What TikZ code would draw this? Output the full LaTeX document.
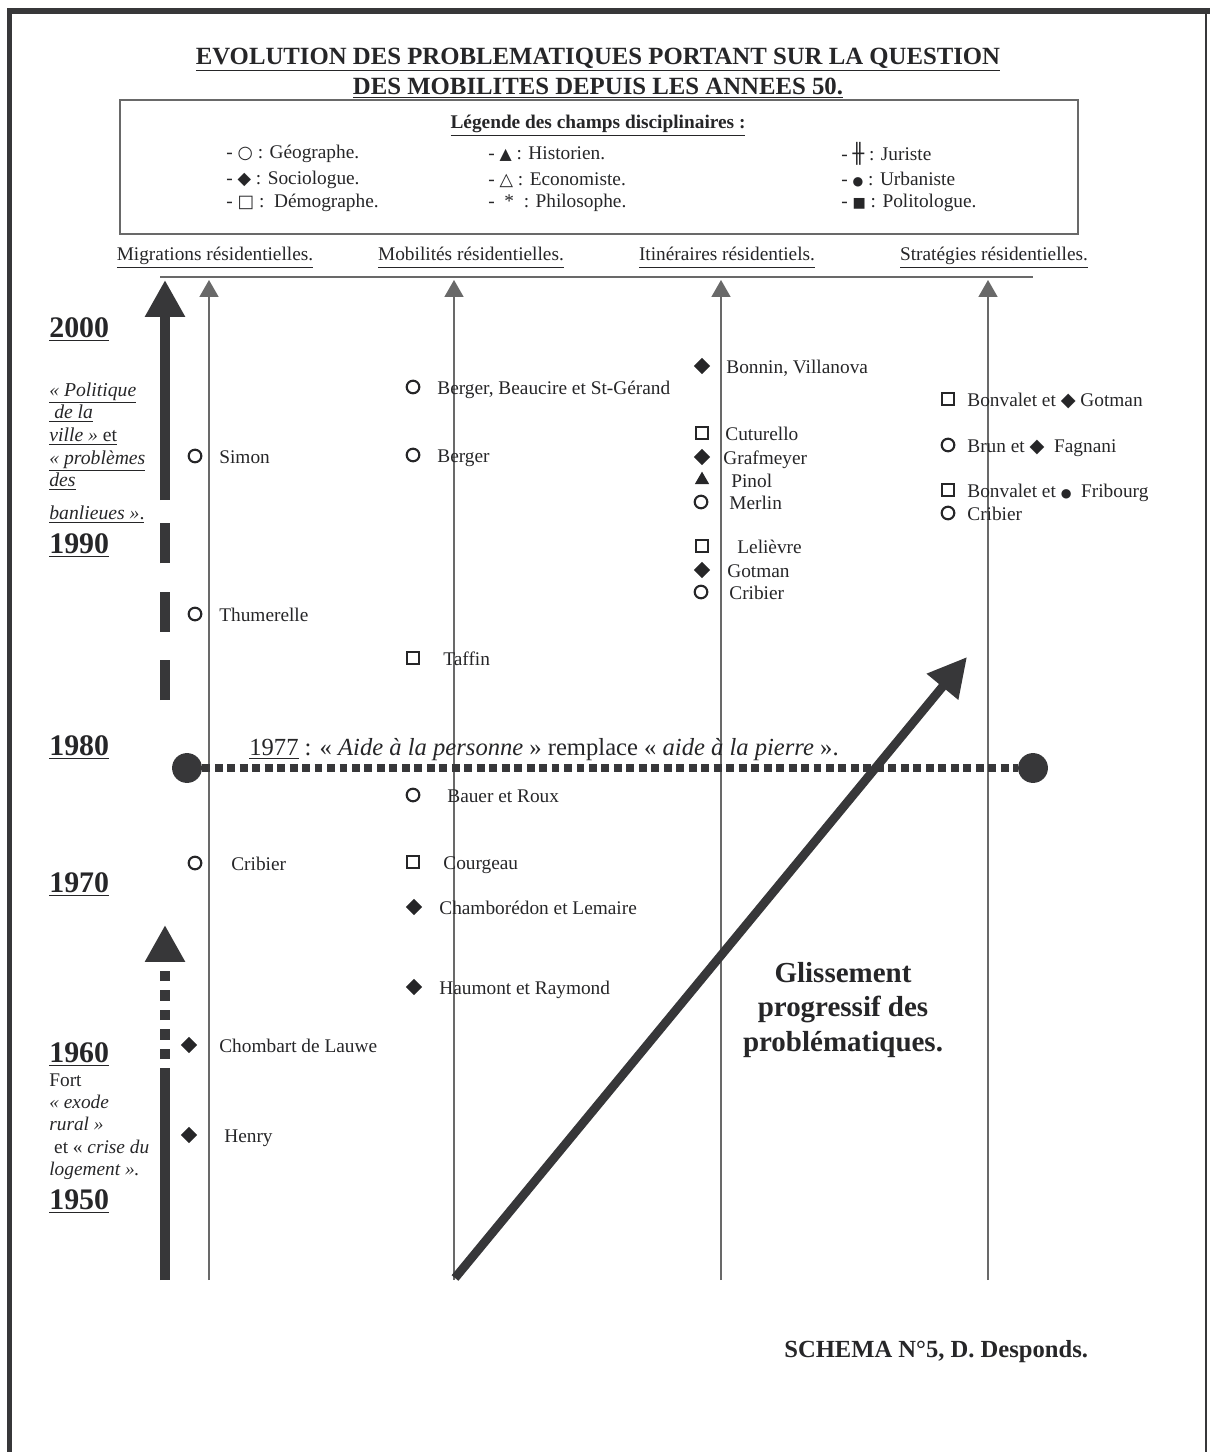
\documentclass[tikz,border=0pt]{standalone}
\usepackage{fontspec}
\setmainfont{Liberation Serif}
\newfontfamily\symb{DejaVu Sans}
\usetikzlibrary{shapes.geometric,arrows.meta}
\definecolor{ink}{RGB}{38,38,40}
\definecolor{fonce}{RGB}{55,55,57}
\definecolor{trait}{RGB}{105,105,105}
\newcommand{\glyphe}[2][10]{{\symb\fontsize{#1}{#1}\selectfont #2}}

\begin{document}
\begin{tikzpicture}[x=0.02cm,y=-0.02cm,
  every node/.style={text=ink},
  texte/.style={inner sep=0, yshift=-1.6pt},
  geo/.style={draw=ink, circle, line width=1.2pt, inner sep=0, minimum size=7.2pt},
  socio/.style={fill=ink, diamond, inner sep=0, minimum size=9.5pt},
  demo/.style={draw=ink, rectangle, line width=1.1pt, inner sep=0, minimum size=7pt},
  hist/.style={fill=ink, regular polygon, regular polygon sides=3, inner sep=0, minimum size=9.5pt},
  auteur/.style={texte, anchor=west, font=\fontsize{11}{13}\selectfont, text height=1.5ex, text depth=.3ex},
  legende/.style={texte, anchor=west, font=\fontsize{11}{13}\selectfont},
  entete/.style={texte, font=\fontsize{11}{13}\selectfont},
  annee/.style={texte, anchor=west, font=\fontsize{17}{20}\selectfont\bfseries},
  axe/.style={draw=trait, line width=0.7pt, -{Triangle[length=9.6pt,width=10.8pt]}},
  barre/.style={draw=fonce, line width=6pt},
  grosse/.style={-{Triangle[length=21pt,width=21.5pt]}}]
\useasboundingbox (0,0) rectangle (1210,1452);
\small
% cadre
\fill[fonce] (7,8) rectangle (1210,14);
\fill[fonce] (7,8) rectangle (12,1452);
\draw[fonce, line width=1.2pt] (1206,14) -- (1206,1452);

% titre et legende
\node[texte, font=\fontsize{14.1}{16}\selectfont\bfseries] (titre1) at (598,57) {\underline{EVOLUTION DES PROBLEMATIQUES PORTANT SUR LA QUESTION}};
\node[texte, font=\fontsize{14.1}{16}\selectfont\bfseries] (titre2) at (598,85) {\underline{DES MOBILITES DEPUIS LES ANNEES 50.}};
\draw[trait, line width=0.9pt] (120,100) rectangle (1078,234);
\node[texte, font=\fontsize{11}{13}\selectfont\bfseries] (leg) at (598,123) {\underline{Légende des champs disciplinaires :}};
\node[legende] (l1) at (226,151) {- \glyphe{○} : Géographe.};
\node[legende] (l2) at (226,177) {- \glyphe{◆} : Sociologue.};
\node[legende] (l3) at (226,200) {- \glyphe{□} :\ \ Démographe.};
\node[legende] (l4) at (488,151) {- \glyphe[9]{▲} : Historien.};
\node[legende] (l5) at (488,177) {- \glyphe{△} : Economiste.};
\node[legende] (l6) at (488,200) {-\ \ * \ : Philosophe.};
\node[legende] (l7) at (841,151) {- \glyphe[11]{╫} : Juriste};
\node[legende] (l8) at (841,177) {- \glyphe[7]{●} : Urbaniste};
\node[legende] (l9) at (841,200) {- \glyphe[8]{■} : Politologue.};

% colonnes
\node[entete] (h1) at (215,255) {\underline{Migrations résidentielles.\vphantom{gp}}};
\node[entete] (h2) at (471,255) {\underline{Mobilités résidentielles.\vphantom{gp}}};
\node[entete] (h3) at (727,255) {\underline{Itinéraires résidentiels.\vphantom{gp}}};
\node[entete] (h4) at (994,255) {\underline{Stratégies résidentielles.\vphantom{gp}}};
\coordinate (hg) at (160,277);
\coordinate (hd) at (1033,277);
\path[draw=trait, line width=0.7pt] (hg) -- (hd);
\coordinate (a1b) at (209,1280); \coordinate (a1h) at (209,280);
\coordinate (a2b) at (454,1280); \coordinate (a2h) at (454,280);
\coordinate (a3b) at (721,1280); \coordinate (a3h) at (721,280);
\coordinate (a4b) at (988,1280); \coordinate (a4h) at (988,280);
\path[axe] (a1b) -- (a1h);
\path[axe] (a2b) -- (a2h);
\path[axe] (a3b) -- (a3h);
\path[axe] (a4b) -- (a4h);

% fleche du temps
\coordinate (f1) at (165,1280); \coordinate (f2) at (165,1068);
\coordinate (f3) at (165,1059); \coordinate (f4) at (165,925);
\coordinate (f5) at (165,700); \coordinate (f6) at (165,522);
\coordinate (f7) at (165,500); \coordinate (f8) at (165,280);
\path[barre] (f1) -- (f2);
\path[barre, grosse, dash pattern=on 5.7pt off 5.4pt] (f3) -- (f4);
\path[barre, dash pattern=on 22.7pt off 16.2pt] (f5) -- (f6);
\path[barre, grosse] (f7) -- (f8);

% annees
\node[annee] (y2000) at (49,327) {\underline{2000}};
\node[annee] (y1990) at (49,543) {\underline{1990}};
\node[annee] (y1980) at (49,745) {\underline{1980}};
\node[annee] (y1970) at (49,882) {\underline{1970}};
\node[annee] (y1960) at (49,1052) {\underline{1960}};
\node[annee] (y1950) at (49,1199) {\underline{1950}};
\node[anchor=north west, inner sep=0, align=left, font=\fontsize{11.2}{12.9}\selectfont] (ville) at (49,382)
  {\underline{\textit{« Politique}}\\ \underline{\textit{\ de la}}\\ \underline{\textit{ville »} et}\\
   \underline{\textit{« problèmes}}\\ \underline{\textit{des}}\\[6pt] \underline{\textit{banlieues »}.}};
\node[anchor=north west, inner sep=0, align=left, font=\fontsize{11}{12.8}\selectfont] (exode) at (49,1073)
  {Fort\\ \textit{« exode}\\ \textit{rural »}\\ \ et « \textit{crise du}\\ \textit{logement ».}};

% 1977
\node[fill=fonce, circle, inner sep=0, minimum size=17pt] (c1) at (187,768) {};
\node[fill=fonce, circle, inner sep=0, minimum size=17pt] (c2) at (1033,768) {};
\path[draw=fonce, line width=5pt, dash pattern=on 4.5pt off 2.6pt] (c1) -- (c2);
\node[texte, anchor=west, font=\fontsize{14}{16}\selectfont] (loi) at (249,747)
  {\underline{1977} : « \textit{Aide à la personne} » remplace « \textit{aide à la pierre} ».};

% migrations residentielles
\node[geo] (s1) at (195,456) {}; \node[auteur] (n1) at (219,456) {Simon};
\node[geo] (s2) at (195,614) {}; \node[auteur] (n2) at (219,614) {Thumerelle};
\node[geo] (s3) at (195,863) {}; \node[auteur] (n3) at (231,863) {Cribier};
\node[socio] (s4) at (189,1045) {}; \node[auteur] (n4) at (219,1045) {Chombart de Lauwe};
\node[socio] (s5) at (189,1135) {}; \node[auteur] (n5) at (224,1135) {Henry};

% mobilites residentielles
\node[geo] (m1) at (413,387) {}; \node[auteur] (p1) at (437,387) {Berger, Beaucire et St-Gérand};
\node[geo] (m2) at (413,455) {}; \node[auteur] (p2) at (437,455) {Berger};
\node[demo] (m3) at (413,658) {}; \node[auteur] (p3) at (443,658) {Taffin};
\node[geo] (m4) at (413,795) {}; \node[auteur] (p4) at (447,795) {Bauer et Roux};
\node[demo] (m5) at (413,862) {}; \node[auteur] (p5) at (443,862) {Courgeau};
\node[socio] (m6) at (414,907) {}; \node[auteur] (p6) at (439,907) {Chamborédon et Lemaire};
\node[socio] (m7) at (414,987) {}; \node[auteur] (p7) at (439,987) {Haumont et Raymond};

% itineraires residentiels
\node[socio] (i1) at (702,366) {}; \node[auteur] (j1) at (726,366) {Bonnin, Villanova};
\node[demo] (i2) at (702,433) {}; \node[auteur] (j2) at (725,433) {Cuturello};
\node[socio] (i3) at (702,457) {}; \node[auteur] (j3) at (723,457) {Grafmeyer};
\node[hist] (i4) at (702,480) {}; \node[auteur] (j4) at (731,480) {Pinol};
\node[geo] (i5) at (701,502) {}; \node[auteur] (j5) at (729,502) {Merlin};
\node[demo] (i6) at (702,546) {}; \node[auteur] (j6) at (737,546) {Lelièvre};
\node[socio] (i7) at (702,570) {}; \node[auteur] (j7) at (727,570) {Gotman};
\node[geo] (i8) at (701,592) {}; \node[auteur] (j8) at (729,592) {Cribier};

% strategies residentielles
\node[demo] (t1) at (948,399) {}; \node[auteur] (u1) at (967,399) {Bonvalet et \glyphe[11]{◆} Gotman};
\node[geo] (t2) at (948,445) {}; \node[auteur] (u2) at (967,445) {Brun et \glyphe[11]{◆}\ \ Fagnani};
\node[demo] (t3) at (948,490) {}; \node[auteur] (u3) at (967,490) {Bonvalet et \glyphe[7]{●}\ \ Fribourg};
\node[geo] (t4) at (948,513) {}; \node[auteur] (u4) at (967,513) {Cribier};

% glissement
\coordinate (g1) at (455,1278);
\coordinate (g2) at (967,657);
\path[draw=fonce, line width=5pt, -{Triangle[length=22pt,width=22pt]}] (g1) -- (g2);
\node[texte, align=center, font=\fontsize{16.5}{19.8}\selectfont\bfseries] (gl) at (843,1007)
  {Glissement\\ progressif des\\ problématiques.};
\node[texte, anchor=west, font=\fontsize{14}{16}\selectfont\bfseries] (auteur) at (784,1349) {SCHEMA N°5, D. Desponds.};
\end{tikzpicture}
\end{document}
